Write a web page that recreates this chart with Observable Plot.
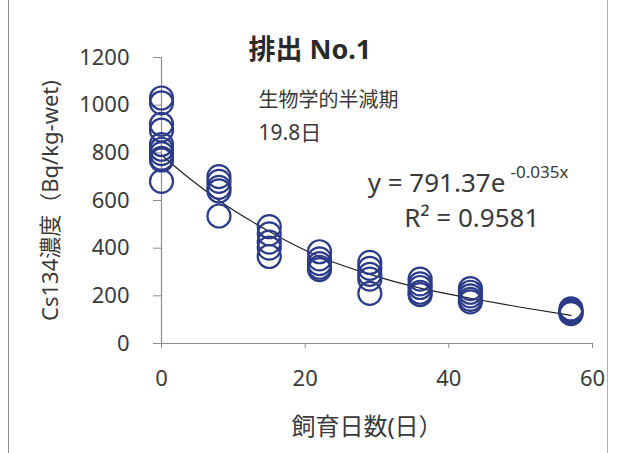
<!DOCTYPE html>
<html>
<head>
<meta charset="utf-8">
<script src="https://cdn.jsdelivr.net/npm/d3@7"></script>
<script src="https://cdn.jsdelivr.net/npm/@observablehq/plot@0.6"></script>
<style>
  html, body { margin: 0; padding: 0; background: #fff; }
  #wrap { position: relative; width: 617px; height: 453px; overflow: hidden; }
  #frame { position: absolute; left: 8px; top: 0; width: 600px; height: 453px;
           border-left: 1px solid #8a8a8a; border-right: 1px solid #b0b0b0; box-sizing: border-box; pointer-events: none; }
  svg { font-family: "Noto Sans", "Noto Sans CJK JP", sans-serif; }
</style>
</head>
<body>
<div id="wrap"><div id="frame"></div></div>
<script>
const day = [
  0, 0, 0, 0, 0, 0, 0, 0, 0, 0,
  8, 8, 8, 8, 8,
  15, 15, 15, 15, 15,
  22, 22, 22, 22, 22,
  29, 29, 29, 29, 29,
  36, 36, 36, 36, 36,
  43, 43, 43, 43, 43,
  57, 57, 57, 57, 57
];
const cs134 = [
  1030, 1010, 920, 895, 835, 815, 797, 777, 770, 680,
  700, 680, 655, 640, 535,
  490, 460, 425, 400, 365,
  385, 355, 335, 320, 310,
  340, 315, 290, 270, 210,
  270, 250, 235, 215, 205,
  230, 215, 200, 185, 175,
  145, 138, 132, 128, 125
];

// Exponential trend line as drawn on the chart
const trendDay = [0, 4, 8, 15, 22, 29, 36, 43, 50, 57];
const trendValue = [791, 690, 600, 470, 364, 290, 232, 190, 152, 118];

// Tick labels
const xTicks = [0, 20, 40, 60];
const yTicks = [0, 200, 400, 600, 800, 1000, 1200];

// Texts
const titleText = "排出 No.1";
const subtitleText = "生物学的半減期";
const halfLifeText = "19.8日";
const eqMain = "y = 791.37e";
const eqExp = "-0.035x";
const r2Text = "R² = 0.9581";
const xLabel = "飼育日数(日）";
const yLabel = "Cs134濃度（Bq/kg-wet)";

const points = day.map((d, i) => ({day: d, value: cs134[i]}));
const trend = trendDay.map((d, i) => ({day: d, value: trendValue[i]}));

const textColor = "#3a3a3a";
const axisColor = "#8c8c8c";
const markColor = "#2c3b88";

const chart = Plot.plot({
  width: 617,
  height: 453,
  marginLeft: 161,
  marginRight: 25,
  marginTop: 57,
  marginBottom: 110,
  style: {fontFamily: '"Noto Sans", "Noto Sans CJK JP", sans-serif', background: "transparent"},
  x: {domain: [0, 60], ticks: xTicks},
  y: {domain: [0, 1200], ticks: yTicks},
  marks: [
    Plot.axisY(yTicks, {tickSize: 8, tickPadding: 24, stroke: axisColor, fill: textColor, fontSize: 22, tickFormat: d => String(d), label: null}),
    Plot.axisX(xTicks, {tickSize: 5, tickPadding: 22, stroke: axisColor, fill: textColor, fontSize: 22, tickFormat: d => String(d), label: null, style: {letterSpacing: "3px"}}),
    Plot.ruleX([0], {stroke: axisColor, strokeWidth: 1.2}),
    Plot.ruleY([0], {stroke: axisColor, strokeWidth: 1.2}),
    Plot.line(trend, {x: "day", y: "value", curve: "monotone-x", stroke: "#222", strokeWidth: 1.2}),
    Plot.dot(points, {x: "day", y: "value", r: 11.5, stroke: markColor, strokeWidth: 2.2, fill: "none"}),
    // annotations
    Plot.text([titleText], {x: 12.1, y: 1229, text: d => d, textAnchor: "start", fontSize: 27, fontWeight: "bold", fill: "#2a2a2a", style: {letterSpacing: "1.5px"}}),
    Plot.text([subtitleText], {x: 13.5, y: 1020, text: d => d, textAnchor: "start", fontSize: 20, fill: textColor}),
    Plot.text([halfLifeText], {x: 13.5, y: 881, text: d => d, textAnchor: "start", fontSize: 21, fill: textColor}),
    Plot.text([eqMain], {x: 28.7, y: 671, text: d => d, textAnchor: "start", fontSize: 26, fill: textColor, style: {letterSpacing: "0.4px"}}),
    Plot.text([eqExp], {x: 48.6, y: 717, text: d => d, textAnchor: "start", fontSize: 17, fill: textColor}),
    Plot.text([r2Text], {x: 33.8, y: 524, text: d => d, textAnchor: "start", fontSize: 26, fill: textColor, style: {letterSpacing: "1px"}}),
    Plot.text([xLabel], {frameAnchor: "bottom", textAnchor: "middle", dx: -10, dy: 91, text: d => d, fontSize: 24, fill: textColor, style: {letterSpacing: "4px"}}),
    Plot.text([yLabel], {frameAnchor: "left", textAnchor: "middle", dx: -111, dy: 0, rotate: -90, text: d => d, fontSize: 22, fill: textColor, style: {letterSpacing: "3px"}})
  ]
});
chart.style.position = "absolute";
chart.style.left = "0";
chart.style.top = "0";
chart.style.overflow = "visible";
document.getElementById("wrap").appendChild(chart);
</script>
</body>
</html>
